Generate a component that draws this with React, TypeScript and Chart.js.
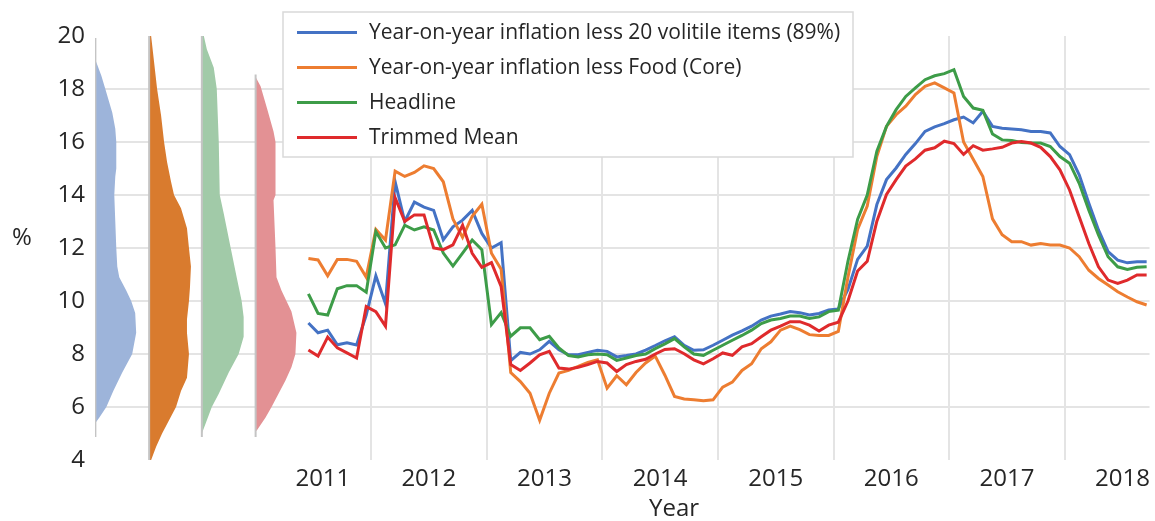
import React, { useEffect, useRef } from 'react';
import { Chart, registerables } from 'chart.js';

Chart.register(...registerables);

// ---------- DATA ----------
// Monthly observations, first one June 2011 (month 5 counted from Jan 2011), last Sep 2018
const FIRST_MONTH_INDEX = 5;

const seriesNames = [
  'Year-on-year inflation less 20 volitile items (89%)',
  'Year-on-year inflation less Food (Core)',
  'Headline',
  'Trimmed Mean',
];

const less20Volatile = [
  9.17, 8.8, 8.9, 8.35, 8.42, 8.34, 9.47,
  10.95, 9.9, 14.5, 13.0, 13.73, 13.54, 13.42, 12.31, 12.8, 13.05, 13.42, 12.55,
  12.0, 12.2, 7.75, 8.06, 8.0, 8.16, 8.48, 8.16, 7.97, 7.97, 8.06, 8.14,
  8.1, 7.89, 7.94, 8.0, 8.15, 8.32, 8.5, 8.65, 8.33, 8.14, 8.16, 8.33,
  8.52, 8.71, 8.87, 9.05, 9.28, 9.43, 9.51, 9.6, 9.56, 9.47, 9.53, 9.66,
  9.7, 10.44, 11.57, 12.07, 13.64, 14.58, 15.02, 15.53, 15.94, 16.4, 16.57, 16.69,
  16.84, 16.94, 16.72, 17.16, 16.59, 16.52, 16.49, 16.46, 16.4, 16.4, 16.34, 15.83,
  15.52, 14.76, 13.69, 12.68, 11.86, 11.54, 11.44, 11.48, 11.48,
];

const lessFoodCore = [
  11.6, 11.55, 10.95, 11.57, 11.57, 11.5, 10.9,
  12.7, 12.3, 14.9, 14.7, 14.85, 15.1, 15.0, 14.5, 13.1, 12.4, 13.2, 13.65,
  11.8, 11.2, 7.3, 6.96, 6.52, 5.5, 6.52, 7.28, 7.38, 7.53, 7.68, 7.78,
  6.71, 7.18, 6.84, 7.3, 7.66, 7.92, 7.2, 6.4, 6.3, 6.27, 6.24, 6.27,
  6.75, 6.94, 7.38, 7.63, 8.2, 8.46, 8.9, 9.05, 8.92, 8.73, 8.7, 8.7,
  8.85, 10.9, 12.7, 13.58, 15.46, 16.59, 17.03, 17.35, 17.79, 18.1, 18.23, 18.04,
  17.85, 16.0, 15.35, 14.7, 13.1, 12.5, 12.24, 12.24, 12.11, 12.17, 12.11, 12.11,
  12.0, 11.67, 11.16, 10.85, 10.6, 10.35, 10.15, 9.97, 9.85,
];

const headline = [
  10.27, 9.53, 9.47, 10.46, 10.58, 10.58, 10.33,
  12.62, 12.0, 12.12, 12.86, 12.68, 12.8, 12.68, 11.81, 11.32, 11.81, 12.3, 11.94,
  9.11, 9.56, 8.67, 8.99, 8.99, 8.54, 8.67, 8.23, 7.94, 7.89, 7.97, 8.0,
  7.97, 7.76, 7.85, 7.94, 8.0, 8.2, 8.38, 8.58, 8.27, 8.0, 7.95, 8.14,
  8.33, 8.52, 8.7, 8.9, 9.15, 9.28, 9.34, 9.43, 9.43, 9.34, 9.4, 9.6,
  9.65, 11.5, 13.08, 14.0, 15.65, 16.59, 17.22, 17.72, 18.04, 18.35, 18.5, 18.58,
  18.73, 17.72, 17.28, 17.2, 16.3, 16.08, 16.06, 15.98, 15.96, 15.96, 15.83, 15.45,
  15.2, 14.44, 13.43, 12.49, 11.67, 11.29, 11.19, 11.27, 11.29,
];

const trimmedMean = [
  8.15, 7.92, 8.64, 8.23, 8.04, 7.85, 9.79,
  9.6, 9.05, 13.9, 13.0, 13.25, 13.25, 12.0, 11.94, 12.12, 12.86, 11.8, 11.27,
  11.45, 10.55, 7.6, 7.38, 7.66, 7.97, 8.1, 7.47, 7.43, 7.5, 7.6, 7.72,
  7.66, 7.34, 7.6, 7.72, 7.8, 8.0, 8.17, 8.2, 8.01, 7.78, 7.63, 7.82,
  8.04, 7.95, 8.27, 8.39, 8.65, 8.9, 9.05, 9.22, 9.22, 9.09, 8.87, 9.09,
  9.2, 10.0, 11.13, 11.5, 13.01, 14.02, 14.58, 15.09, 15.36, 15.69, 15.78, 16.03,
  15.94, 15.53, 15.86, 15.69, 15.74, 15.8, 15.96, 16.02, 15.96, 15.8, 15.45, 14.95,
  14.19, 13.18, 12.17, 11.29, 10.79, 10.66, 10.79, 10.98, 10.98,
];

const yearLabels = ['2011', '2012', '2013', '2014', '2015', '2016', '2017', '2018'];
const yTicks = [4, 6, 8, 10, 12, 14, 16, 18, 20];

// Distributions of each measure: [inflation level %, relative density]
const densityLess20 = [
  [19.1, 0], [18.5, 6], [18, 10], [17.1, 17], [16.5, 20], [16, 21], [15, 21], [14.7, 20],
  [14, 19], [13, 20], [12, 21], [11.3, 22], [10.9, 24], [10.4, 31], [10, 36], [9.55, 40],
  [8.8, 41], [8, 37], [7.3, 27], [6.6, 18], [6, 11], [5.6, 4], [5.4, 0],
];
const densityCore = [
  [20, 2], [19, 5], [18, 8], [17, 12], [16, 15], [15.25, 18], [14.5, 22], [14, 25],
  [13.5, 32], [12.75, 38], [12, 40], [11.3, 42], [10.5, 41], [10, 40], [9.3, 38], [8.8, 38],
  [8, 40], [7.1, 38], [6.6, 32], [6, 27], [5.5, 20], [5, 13], [4.5, 7], [4, 2],
];
const densityHeadline = [
  [20, 2], [19.5, 5], [18.8, 12], [18, 15], [16, 17], [14, 18], [13.3, 22], [12, 29],
  [10.9, 35], [10, 40], [9.4, 42], [8.65, 42], [8, 37], [7.3, 27], [6.5, 17], [6, 10],
  [5.4, 4], [5.0, 0],
];
const densityTrimmed = [
  [18.45, 0], [18.1, 5], [17.2, 12], [16.4, 18], [16, 20], [14, 20], [13.8, 18], [12, 20],
  [10.9, 21], [10.4, 26], [10, 31], [9.6, 36], [8.8, 41], [8, 40], [7.5, 36], [7, 30],
  [6, 16], [5.6, 10], [5.1, 1],
];
// vertical extent of each distribution's axis line
const densityAxisRanges = [[19.92, 4.87], [20, 4], [20, 4.87], [18.55, 4.87]];

// ---------- STYLE / LAYOUT ----------
const lineColors = ['#4472C4', '#ED7D31', '#3D9C48', '#DF2A2C'];
const densityColors = ['#9DB4DA', '#D97B2E', '#A1CAA8', '#E39194'];
const GRID = '#E4E4E4';
const TEXT = '#262626';
const FONT = "'Open Sans', sans-serif";

const X_MIN = -16.65;
const X_MAX = 92.8;
const MONTH_PX = 9.68;
const DENSITY_SCALE = 1 / MONTH_PX; // one density unit = 1px
const DENSITY_BASES = [-16.61, -11.03, -5.56, 0.02];

const densities = [densityLess20, densityCore, densityHeadline, densityTrimmed];
const seriesValues = [less20Volatile, lessFoodCore, headline, trimmedMean];

const labelPositions = yearLabels.map((_, i) => (i === 0 ? 7 : i * 12 + 6));
const gridPositions = yearLabels.slice(1).map((_, i) => (i + 1) * 12);
const xTickValues = [...labelPositions, ...gridPositions].sort((a, b) => a - b);

const overlayPlugin = {
  id: 'overlayText',
  afterDraw(chart: any) {
    const ctx = chart.ctx as CanvasRenderingContext2D;
    ctx.save();
    // legend box
    const bx = 283, by = 12, bw = 570, bh = 145;
    ctx.fillStyle = '#FFFFFF';
    ctx.fillRect(bx, by, bw, bh);
    ctx.strokeStyle = '#D9D9D9';
    ctx.lineWidth = 1.5;
    ctx.strokeRect(bx, by, bw, bh);
    ctx.font = `21px ${FONT}`;
    ctx.textBaseline = 'middle';
    ctx.textAlign = 'left';
    seriesNames.forEach((name, i) => {
      const y = 32.5 + i * 35;
      ctx.strokeStyle = lineColors[i];
      ctx.lineWidth = 3.2;
      ctx.beginPath();
      ctx.moveTo(297, y);
      ctx.lineTo(357, y);
      ctx.stroke();
      ctx.fillStyle = TEXT;
      ctx.fillText(name, 369, y + 1);
    });
    // axis titles
    ctx.font = `24px ${FONT}`;
    ctx.textAlign = 'center';
    ctx.fillStyle = TEXT;
    ctx.fillText('%', 22, 238);
    ctx.fillText('Year', 674, 509);
    ctx.restore();
  },
};

export default function App() {
  const ref = useRef<HTMLCanvasElement | null>(null);

  useEffect(() => {
    if (!ref.current) return;

    const lineSets = seriesValues.map((vals, s) => ({
      type: 'line' as const,
      label: seriesNames[s],
      data: vals.map((v, i) => ({ x: FIRST_MONTH_INDEX + i + 0.5, y: v })),
      borderColor: lineColors[s],
      backgroundColor: lineColors[s],
      borderWidth: 3,
      pointRadius: 0,
      tension: 0,
      fill: false,
      order: 4 - s,
    }));

    const densitySets = densities.map((d, k) => {
      const base = DENSITY_BASES[k];
      const pts = [
        { x: base, y: d[0][0] },
        ...d.map(([lvl, w]) => ({ x: base + w * DENSITY_SCALE, y: lvl })),
        { x: base, y: d[d.length - 1][0] },
      ];
      return {
        type: 'line' as const,
        label: 'density' + k,
        data: pts,
        borderWidth: 0,
        borderColor: 'rgba(0,0,0,0)',
        backgroundColor: densityColors[k],
        pointRadius: 0,
        tension: 0,
        fill: 'shape' as const,
        order: 20,
      };
    });

    const axisSets = densityAxisRanges.map((r, k) => ({
      type: 'line' as const,
      label: 'axis' + k,
      data: [
        { x: DENSITY_BASES[k], y: r[0] },
        { x: DENSITY_BASES[k], y: r[1] },
      ],
      borderColor: '#C4C4C4',
      borderWidth: 2,
      pointRadius: 0,
      fill: false,
      order: 15,
    }));

    const chart = new Chart(ref.current, {
      type: 'line',
      data: { datasets: [...lineSets, ...axisSets, ...densitySets] as any },
      options: {
        responsive: false,
        animation: false,
        events: [],
        layout: { padding: { top: 36, left: 0, right: 0, bottom: 0 } },
        plugins: {
          legend: { display: false },
          tooltip: { enabled: false },
          title: { display: false },
        },
        scales: {
          x: {
            type: 'linear',
            min: X_MIN,
            max: X_MAX,
            afterBuildTicks: (scale: any) => {
              scale.ticks = xTickValues.map((v) => ({ value: v }));
            },
            afterFit: (scale: any) => {
              scale.height = 61;
            },
            ticks: {
              autoSkip: false,
              maxRotation: 0,
              minRotation: 0,
              padding: 5,
              color: TEXT,
              font: { family: FONT, size: 24 },
              callback: (value: any) => {
                const idx = labelPositions.indexOf(Number(value));
                return idx >= 0 ? yearLabels[idx] : '';
              },
            },
            grid: {
              drawTicks: false,
              lineWidth: 2,
              color: (c: any) => (gridPositions.includes(c.tick?.value) ? GRID : 'rgba(0,0,0,0)'),
            },
            border: { display: false },
          },
          y: {
            type: 'linear',
            min: 4,
            max: 20,
            afterBuildTicks: (scale: any) => {
              scale.ticks = yTicks.map((v) => ({ value: v }));
            },
            afterFit: (scale: any) => {
              scale.width = 95;
            },
            ticks: {
              padding: 10,
              color: TEXT,
              font: { family: FONT, size: 24 },
            },
            grid: {
              drawTicks: false,
              lineWidth: 2,
              color: (c: any) => (c.tick && (c.tick.value === 4 || c.tick.value === 20) ? 'rgba(0,0,0,0)' : GRID),
            },
            border: { display: false },
          },
        },
      },
      plugins: [overlayPlugin],
    });

    return () => chart.destroy();
  }, []);

  return (
    <div style={{ position: 'absolute', left: 0, top: 0, width: 1155, height: 521, background: '#fff' }}>
      <canvas ref={ref} width={1155} height={521} style={{ display: 'block' }} />
    </div>
  );
}
